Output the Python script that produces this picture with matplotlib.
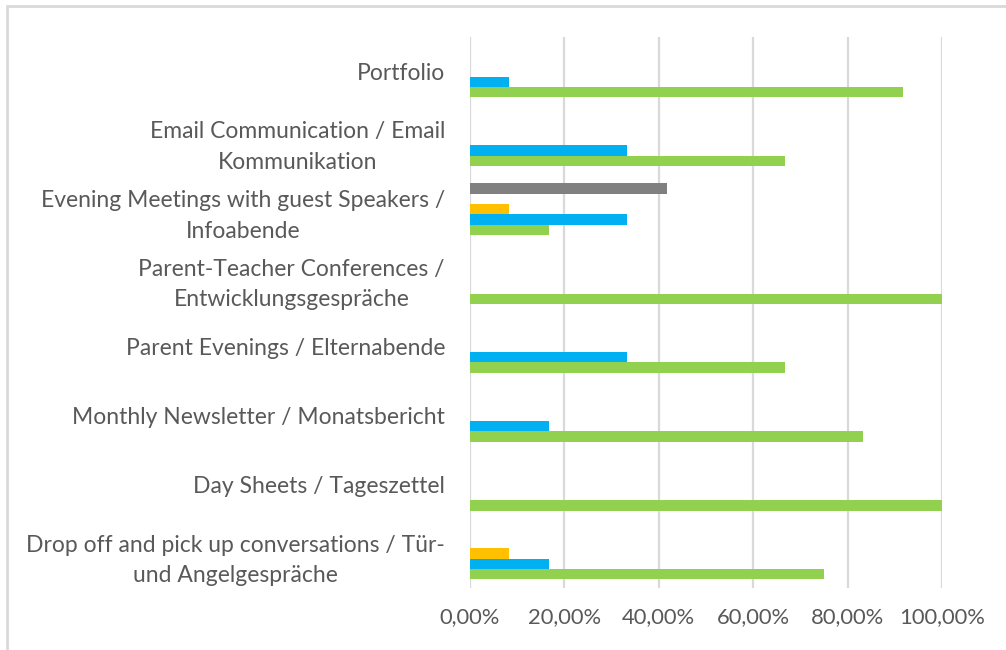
import matplotlib
matplotlib.use("Agg")
import matplotlib.pyplot as plt
import numpy as np
from matplotlib.patches import Rectangle

categories = [
    "Portfolio",
    "Email Communication / Email\nKommunikation",
    "Evening Meetings with guest Speakers /\nInfoabende",
    "Parent-Teacher Conferences /\nEntwicklungsgespräche",
    "Parent Evenings / Elternabende",
    "Monthly Newsletter / Monatsbericht",
    "Day Sheets / Tageszettel",
    "Drop off and pick up conversations / Tür-\nund Angelgespräche",
]
green_vals = [91.67, 66.67, 16.67, 100.0, 66.67, 83.33, 100.0, 75.0]
blue_vals = [8.33, 33.33, 33.33, 0.0, 33.33, 16.67, 0.0, 16.67]
orange_vals = [0.0, 0.0, 8.33, 0.0, 0.0, 0.0, 0.0, 8.33]
empty_vals = [0.0, 0.0, 0.0, 0.0, 0.0, 0.0, 0.0, 0.0]
gray_vals = [0.0, 0.0, 41.67, 0.0, 0.0, 0.0, 0.0, 0.0]
xticks = [0, 20, 40, 60, 80, 100]
xtick_labels = ["0,00%", "20,00%", "40,00%", "60,00%", "80,00%", "100,00%"]

series = [
    (green_vals, "#92D050"),
    (blue_vals, "#00B0F0"),
    (orange_vals, "#FFC000"),
    (empty_vals, "#5B9BD5"),
    (gray_vals, "#808080"),
]

txt = "#595959"
plt.rcParams['font.family'] = ['Lato', 'DejaVu Sans']

fig = plt.figure(figsize=(10.06, 6.5), dpi=100)
ax = fig.add_axes([470/1006, 1 - 588/650, (942-470)/1006, (588-37)/650])

y = np.arange(len(categories))
h = 0.15
offsets = [2*h, h, 0, -h, -2*h]
for (vals, col), off in zip(series, offsets):
    ax.barh(y + off, vals, height=h, color=col, zorder=3)

ax.set_ylim(len(categories) - 0.5, -0.5)
ax.set_xlim(0, 100)
ax.set_yticks(y)
ax.set_yticklabels(categories, color=txt, fontsize=16.5, multialignment='center')
ax.set_xticks(xticks)
ax.set_xticklabels(xtick_labels, color=txt, fontsize=15.8)
ax.tick_params(axis='y', length=0, pad=18)
ax.tick_params(axis='x', length=0, pad=14)
for t in ax.get_yticklabels():
    t.set_linespacing(1.55)
ax.grid(axis='x', color='#D9D9D9', linewidth=1.6, zorder=0)
for s in ax.spines.values():
    s.set_visible(False)

fig.patches.append(Rectangle((7/1006, -0.05), 1.2, 1 - 6/650 + 0.05, transform=fig.transFigure,
                             fill=False, edgecolor='#D9D9D9', linewidth=2))

fig.savefig("out.png", dpi=100)
